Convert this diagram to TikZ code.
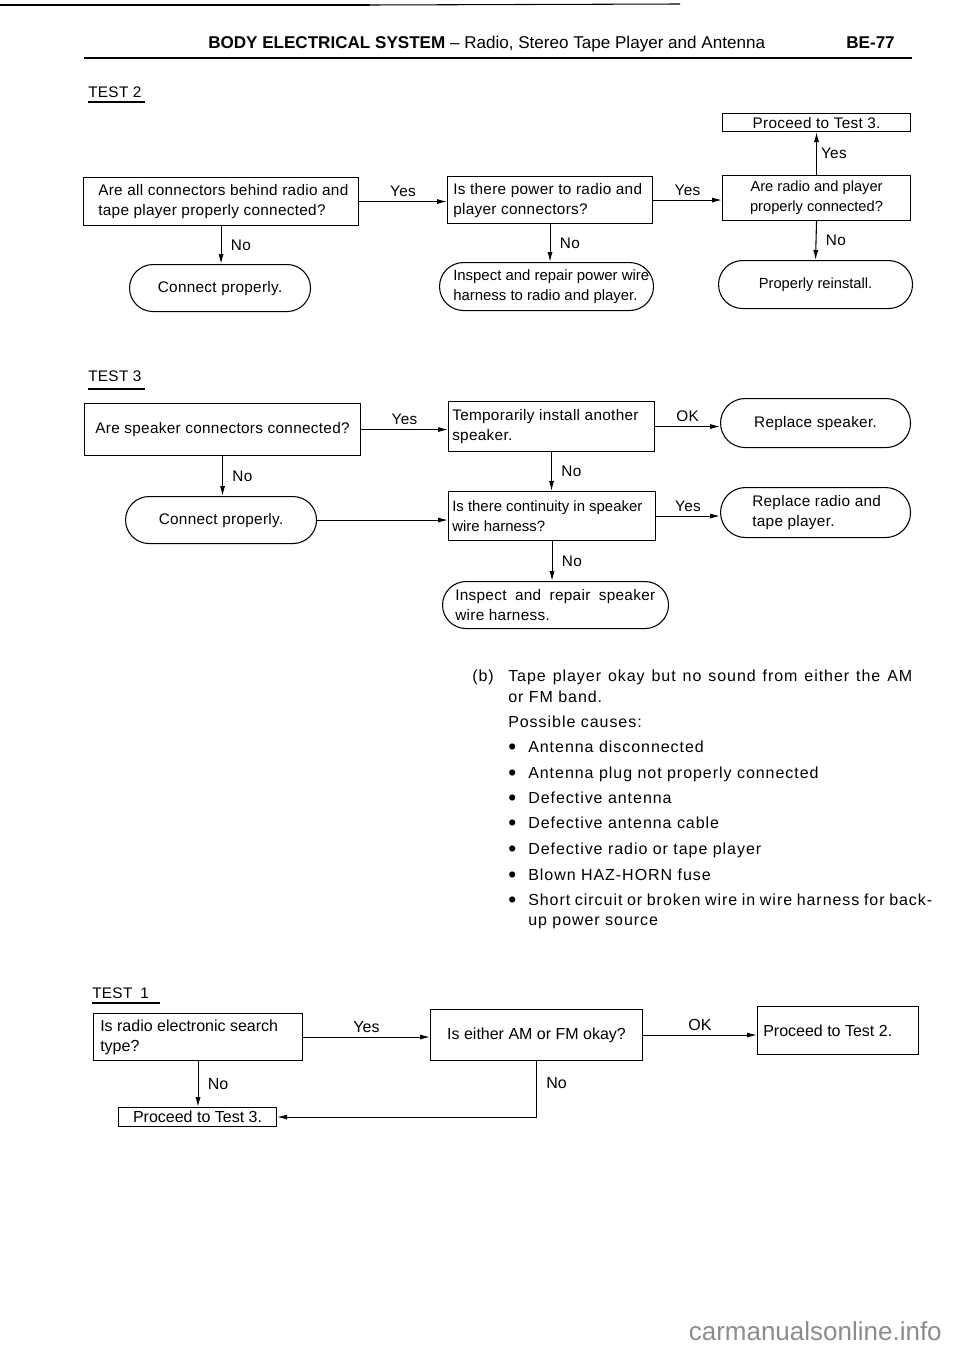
\documentclass[tikz,border=0pt]{standalone}
\usepackage{fontspec}
\setmainfont{Liberation Sans}
\newfontfamily\bodyf[LetterSpace=2]{Liberation Sans}
\newfontfamily\parf[LetterSpace=6]{Liberation Sans}
\newfontfamily\narf{Liberation Sans}
\usetikzlibrary{arrows.meta}
\newcommand\qb[6]{%
 \pgfmathsetmacro\qbw{(#4-#2)*0.75}%
 \pgfmathsetmacro\qbh{(#5-#3)*0.75}%
 \pgfmathsetmacro\qbr{(#5-#3)*0.75/2}%
 \node[#6, minimum width=\qbw pt, minimum height=\qbh pt, anchor=north west, inner sep=0pt] (#1) at (#2,#3) {};}
\begin{document}
\begin{tikzpicture}[x=0.75pt,y=-0.75pt,
 qbox/.style={draw, line width=0.8pt},
 rbox/.style={draw, line width=0.8pt, rounded corners=\qbr pt},
 txt/.style={font=\bodyf\fontsize{11.5}{15}\selectfont, inner sep=0pt, align=left},
 dtxt/.style={font=\narf\fontsize{11.2}{15}\selectfont, inner sep=0pt, align=left},
 ntxt/.style={font=\narf\fontsize{11}{15}\selectfont, inner sep=0pt, align=center},
 ttxt/.style={font=\narf\fontsize{12}{15}\selectfont, inner sep=0pt, align=left},
 ptxt/.style={font=\parf\fontsize{12}{15}\selectfont, inner sep=0pt, anchor=base west},
 bul/.style={font=\narf\fontsize{17}{15}\selectfont, inner sep=0pt, anchor=base west},
 conn/.style={line width=0.8pt, -{Latex[length=7.5pt,width=3.8pt]}},
 lbl/.style={font=\bodyf\fontsize{11.5}{13}\selectfont, inner sep=3pt},
 tlbl/.style={font=\narf\fontsize{12}{13}\selectfont, inner sep=3pt},
 head/.style={font=\narf\fontsize{12.8}{15}\selectfont, inner sep=0pt, anchor=base west},
 ttl/.style={font=\bodyf\fontsize{11.5}{13}\selectfont, inner sep=0pt, anchor=base west}]
\useasboundingbox (0,0) rectangle (960,1356);
\fill[white] (0,0) rectangle (960,1356);

% page header
\draw[line width=2.2pt] (0,5) -- (370,5);
\draw[line width=0.8pt] (370,5) -- (680,4);
\node[head] (hdr) at (208,48) {\textbf{BODY ELECTRICAL SYSTEM} – Radio, Stereo Tape Player and Antenna};
\node[head, anchor=base east] (pg) at (895,48) {\textbf{BE-77}};
\draw[line width=2pt] (84,58) -- (912,58);

% ---------------- TEST 2
\node[ttl] (t2) at (88,97) {TEST 2};
\draw[line width=0.8pt] (88,102) -- (145,102);

\qb{a1}{83}{177}{358}{225}{qbox}
\node[txt, anchor=west] (a1t) at ([xshift=15*0.75pt]a1.west) {Are all connectors behind radio and\\tape player properly connected?};
\qb{a2}{447}{176}{652}{223}{qbox}
\node[txt, anchor=west] (a2t) at ([xshift=6*0.75pt]a2.west) {Is there power to radio and\\player connectors?};
\qb{a3}{722}{175}{910}{220}{qbox}
\node[ntxt] (a3t) at (a3.center) {Are radio and player\\properly connected?};
\qb{a4}{722}{113}{910}{131}{qbox}
\node[txt] (a4t) at (a4.center) {Proceed to Test 3.};
\qb{r1}{129}{264}{310}{311}{rbox}
\node[txt] (r1t) at (r1.center) {Connect properly.};
\qb{r2}{439}{262}{653}{310}{rbox}
\node[dtxt, anchor=west] (r2t) at ([xshift=14*0.75pt]r2.west) {Inspect and repair power wire\\harness to radio and player.};
\qb{r3}{718}{260}{912}{308}{rbox}
\node[ntxt] (r3t) at (r3.center) {Properly reinstall.};

\draw[conn] (a1.east) -- (a1.east -| a2.west) node[lbl, midway, above] {Yes};
\draw[conn] (a2.east) -- (a2.east -| a3.west) node[lbl, midway, above] {Yes};
\draw[conn] (a3.north) -- (a4.south) node[lbl, midway, right] {Yes};
\draw[conn] (a1.south) -- (a1.south |- r1.north) node[lbl, midway, right=4pt] {No};
\draw[conn] (a2.south) -- (a2.south |- r2.north) node[lbl, midway, right=4pt] {No};
\draw[conn] (a3.south) -- (r3.north) node[lbl, midway, right=4pt] {No};

% ---------------- TEST 3
\node[ttl] (t3) at (88,381) {TEST 3};
\draw[line width=0.8pt] (88,389) -- (145,389);

\qb{b1}{84}{403}{360}{455}{qbox}
\node[txt] (b1t) at (b1.center) {Are speaker connectors connected?};
\qb{b2}{448}{401}{654}{451}{qbox}
\node[txt, anchor=west] (b2t) at ([xshift=4*0.75pt]b2.west) {Temporarily install another\\speaker.};
\qb{b3}{720}{398}{910}{447}{rbox}
\node[txt] (b3t) at (b3.center) {Replace speaker.};
\qb{r4}{125}{496}{316}{543}{rbox}
\node[txt] (r4t) at (r4.center) {Connect properly.};
\qb{b4}{448}{491}{655}{540}{qbox}
\node[dtxt, anchor=west] (b4t) at ([xshift=4*0.75pt]b4.west) {Is there continuity in speaker\\wire harness?};
\qb{r5}{720}{487}{910}{537}{rbox}
\node[txt, anchor=west] (r5t) at ([xshift=32*0.75pt]r5.west) {Replace radio and\\tape player.};
\qb{r6}{442}{581}{668}{628}{rbox}
\node[txt, anchor=west] (r6t) at ([xshift=13*0.75pt]r6.west) {\makebox[150pt][s]{Inspect and repair speaker}\\wire harness.};

\draw[conn] (b1.east) -- (b1.east -| b2.west) node[lbl, midway, above] {Yes};
\draw[conn] (b2.east) -- (b2.east -| b3.west) node[lbl, midway, above] {OK};
\draw[conn] (b1.south) -- (b1.south |- r4.north) node[lbl, midway, right=4pt] {No};
\draw[conn] (b2.south) -- (b2.south |- b4.north) node[lbl, midway, right=4pt] {No};
\draw[conn] (r4.east) -- (r4.east -| b4.west);
\draw[conn] (b4.east) -- (b4.east -| r5.west) node[lbl, midway, above] {Yes};
\draw[conn] (b4.south) -- (b4.south |- r6.north) node[lbl, midway, right=4pt] {No};

% ---------------- (b) text
\node[ptxt] (pb) at (472,681) {(b)};
\node[ptxt] (p1) at (508,681) {\makebox[303pt][s]{Tape player okay but no sound from either the AM}};
\node[ptxt] (p2) at (508,702) {or FM band.};
\node[ptxt] (p3) at (508,727) {Possible causes:};
\foreach \yy/\tt [count=\i] in {752/Antenna disconnected, 778/Antenna plug not properly connected, 803/Defective antenna, 828/Defective antenna cable, 854/Defective radio or tape player, 880/Blown HAZ-HORN fuse, 905/{\makebox[303pt][s]{Short circuit or broken wire in wire harness for back-}}}{
  \node[bul] (bu\i) at (508,\yy+2) {•};
  \node[ptxt] (bt\i) at (528,\yy) {\tt};
}
\node[ptxt] (bt8) at (528,925) {up power source};

% ---------------- TEST 1
\node[ttl] (t1) at (92,998) {TEST\hspace{6pt}1};
\draw[line width=0.8pt] (92,1003) -- (160,1003);

\qb{c1}{93}{1013}{302}{1060}{qbox}
\node[ttxt, anchor=west] (c1t) at ([xshift=7*0.75pt]c1.west) {Is radio electronic search\\type?};
\qb{c2}{430}{1009}{642}{1060}{qbox}
\node[ttxt] (c2t) at (c2.center) {Is either AM or FM okay?};
\qb{c3}{757}{1006}{918}{1054}{qbox}
\node[ttxt, anchor=west] (c3t) at ([xshift=6*0.75pt]c3.west) {Proceed to Test 2.};
\qb{c4}{118}{1107}{276}{1126}{qbox}
\node[ttxt] (c4t) at (c4.center) {Proceed to Test 3.};

\draw[conn] (c1.east) -- (c1.east -| c2.west) node[tlbl, midway, above] {Yes};
\draw[conn] (c2.east) -- (c2.east -| c3.west) node[tlbl, midway, above] {OK};
\draw[conn] (c1.south) -- (c1.south |- c4.north) node[tlbl, midway, right=4pt] {No};
\draw[conn] (c2.south) -- node[tlbl, pos=0.4, right=4pt] {No} (c2.south |- c4.east) -- (c4.east);

% watermark
\node[font=\narf\fontsize{19.5}{20}\selectfont, text=black!45, inner sep=0pt, anchor=base east] (wm) at (942,1340) {carmanualsonline.info};
\end{tikzpicture}
\end{document}
